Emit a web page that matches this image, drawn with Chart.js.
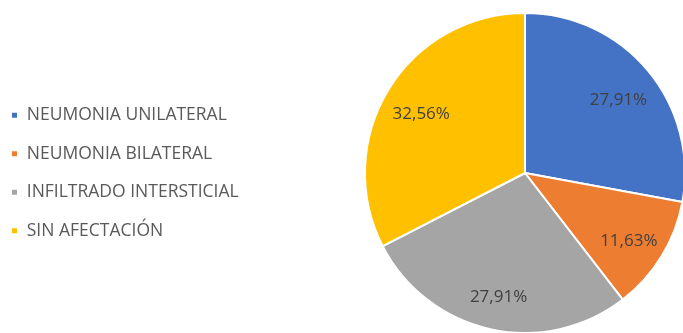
<!DOCTYPE html>
<html>
<head>
<meta charset="utf-8">
<script src="https://cdn.jsdelivr.net/npm/chart.js@4.4.0/dist/chart.umd.min.js"></script>
<style>
    html, body { margin: 0; padding: 0; background: #ffffff; }
    #wrap { width: 683px; height: 333px; position: relative; }
</style>
</head>
<body>
<div id="wrap"><canvas id="grafico"></canvas></div>
<script>
const categorias = ["NEUMONIA UNILATERAL", "NEUMONIA BILATERAL", "INFILTRADO INTERSTICIAL", "SIN AFECTACIÓN"];
const porcentajes = [27.91, 11.63, 27.91, 32.56];
const colores = ["#4472C4", "#ED7D31", "#A5A5A5", "#FFC000"];

const fuente = "'Open Sans', 'Liberation Sans', sans-serif";

// etiquetas dentro de cada porción
const etiquetasPlugin = {
    id: "etiquetas",
    afterDatasetsDraw(chart) {
        const ctx = chart.ctx;
        const meta = chart.getDatasetMeta(0);
        ctx.save();
        ctx.font = "17px " + fuente;
        ctx.fillStyle = "#404040";
        ctx.textAlign = "center";
        ctx.textBaseline = "middle";
        meta.data.forEach((arco, i) => {
            const p = arco.getProps(["startAngle", "endAngle", "outerRadius", "x", "y"], true);
            const medio = (p.startAngle + p.endAngle) / 2;
            const r = p.outerRadius * 0.76;
            const texto = porcentajes[i].toFixed(2).replace(".", ",") + "%";
            ctx.fillText(texto, p.x + Math.cos(medio) * r, p.y + Math.sin(medio) * r + 5);
        });
        ctx.restore();
    }
};

// ancho fijo para la leyenda, así el pastel queda a la derecha
const anchoLeyenda = {
    id: "anchoLeyenda",
    beforeUpdate(chart) {
        const leyenda = chart.legend;
        if (leyenda && !leyenda._parcheado) {
            const fit = leyenda.fit;
            leyenda.fit = function () {
                fit.call(this);
                this.width = 377;
            };
            leyenda._parcheado = true;
        }
    }
};

const ctx = document.getElementById("grafico").getContext("2d");
const miGrafico = new Chart(ctx, {
    type: "pie",
    data: {
        labels: categorias,
        datasets: [{
            data: porcentajes,
            backgroundColor: colores,
            borderColor: "#ffffff",
            borderWidth: 2
        }]
    },
    options: {
        responsive: true,
        maintainAspectRatio: false,
        animation: false,
        radius: 160,
        layout: { padding: { left: -10, top: 13, bottom: 0, right: 0 } },
        plugins: {
            tooltip: { enabled: false },
            legend: {
                position: "left",
                labels: {
                    boxWidth: 7,
                    boxHeight: 7,
                    padding: 21,
                    color: "#595959",
                    font: { family: fuente, size: 17.5 }
                }
            }
        }
    },
    plugins: [etiquetasPlugin, anchoLeyenda]
});
</script>
</body>
</html>
